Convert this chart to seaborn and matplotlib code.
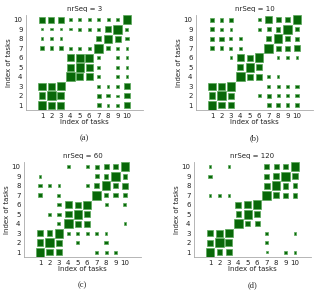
import numpy as np
import pandas as pd
import matplotlib
matplotlib.use("Agg")
import matplotlib.pyplot as plt
import seaborn as sns

sns.set_style("white")
plt.rcParams["font.family"] = ["DejaVu Sans"]

# similarity matrices, rows listed from task 10 (top) down to task 1
seq3 = [
    [0.75, 0.70, 0.75, 0.30, 0.30, 0.30, 0.30, 0.35, 0.35, 1.00],
    [0.28, 0.28, 0.28, 0.28, 0.32, 0.32, 0.32, 0.75, 1.00, 0.35],
    [0.30, 0.40, 0.30, 0.00, 0.00, 0.00, 0.55, 0.95, 0.70, 0.40],
    [0.45, 0.45, 0.45, 0.40, 0.35, 0.35, 1.00, 0.50, 0.30, 0.30],
    [0.00, 0.00, 0.00, 0.85, 0.90, 0.95, 0.35, 0.00, 0.35, 0.30],
    [0.00, 0.00, 0.00, 0.85, 1.00, 0.85, 0.30, 0.00, 0.35, 0.30],
    [0.00, 0.00, 0.00, 1.00, 0.80, 0.80, 0.35, 0.00, 0.30, 0.30],
    [0.85, 0.80, 0.95, 0.00, 0.00, 0.00, 0.40, 0.30, 0.30, 0.70],
    [0.80, 1.00, 0.80, 0.00, 0.00, 0.00, 0.45, 0.40, 0.25, 0.60],
    [1.00, 0.80, 0.80, 0.00, 0.00, 0.00, 0.45, 0.30, 0.30, 0.65],
]
seq10 = [
    [0.50, 0.45, 0.45, 0.00, 0.00, 0.30, 0.80, 0.60, 0.60, 1.00],
    [0.45, 0.30, 0.30, 0.00, 0.00, 0.40, 0.50, 0.55, 1.00, 0.50],
    [0.50, 0.50, 0.35, 0.30, 0.00, 0.00, 0.60, 1.00, 0.55, 0.50],
    [0.45, 0.45, 0.35, 0.30, 0.00, 0.00, 1.00, 0.60, 0.55, 0.65],
    [0.00, 0.00, 0.30, 0.80, 0.70, 1.00, 0.00, 0.30, 0.35, 0.30],
    [0.00, 0.00, 0.00, 0.70, 1.00, 0.65, 0.00, 0.00, 0.00, 0.00],
    [0.00, 0.00, 0.00, 1.00, 0.75, 0.75, 0.30, 0.30, 0.00, 0.00],
    [0.85, 0.80, 1.00, 0.00, 0.00, 0.00, 0.40, 0.35, 0.35, 0.40],
    [0.80, 1.00, 0.75, 0.00, 0.00, 0.30, 0.45, 0.35, 0.30, 0.40],
    [1.00, 0.75, 0.75, 0.00, 0.00, 0.00, 0.45, 0.45, 0.45, 0.45],
]
seq60 = [
    [0.00, 0.00, 0.00, 0.30, 0.00, 0.35, 0.45, 0.60, 0.60, 1.00],
    [0.30, 0.00, 0.00, 0.00, 0.00, 0.00, 0.45, 0.55, 1.00, 0.55],
    [0.40, 0.40, 0.30, 0.00, 0.00, 0.35, 0.55, 1.00, 0.60, 0.65],
    [0.50, 0.00, 0.35, 0.00, 0.00, 0.00, 1.00, 0.50, 0.50, 0.50],
    [0.00, 0.00, 0.40, 0.85, 0.70, 0.95, 0.00, 0.35, 0.00, 0.35],
    [0.00, 0.30, 0.40, 0.75, 1.00, 0.65, 0.00, 0.00, 0.00, 0.00],
    [0.00, 0.00, 0.35, 1.00, 0.70, 0.75, 0.00, 0.00, 0.00, 0.30],
    [0.70, 0.65, 1.00, 0.35, 0.40, 0.40, 0.35, 0.30, 0.00, 0.00],
    [0.80, 1.00, 0.65, 0.00, 0.30, 0.00, 0.00, 0.40, 0.00, 0.00],
    [1.00, 0.75, 0.70, 0.00, 0.00, 0.00, 0.40, 0.35, 0.30, 0.00],
]
seq120 = [
    [0.30, 0.00, 0.30, 0.00, 0.00, 0.00, 0.60, 0.60, 0.60, 1.00],
    [0.40, 0.00, 0.00, 0.00, 0.00, 0.00, 0.60, 0.65, 1.00, 0.65],
    [0.00, 0.00, 0.00, 0.00, 0.00, 0.00, 0.70, 1.00, 0.65, 0.55],
    [0.30, 0.30, 0.30, 0.00, 0.00, 0.00, 1.00, 0.70, 0.60, 0.55],
    [0.00, 0.00, 0.00, 0.70, 0.80, 1.00, 0.00, 0.00, 0.00, 0.00],
    [0.00, 0.00, 0.00, 0.65, 1.00, 0.75, 0.00, 0.00, 0.00, 0.00],
    [0.00, 0.00, 0.00, 1.00, 0.60, 0.55, 0.00, 0.00, 0.00, 0.00],
    [0.75, 0.85, 0.95, 0.00, 0.00, 0.00, 0.30, 0.00, 0.00, 0.30],
    [0.65, 1.00, 0.80, 0.00, 0.00, 0.00, 0.30, 0.00, 0.00, 0.00],
    [1.00, 0.65, 0.65, 0.00, 0.00, 0.00, 0.25, 0.00, 0.40, 0.30],
]

tasks = list(range(1, 11))
titles = ["nrSeq = 3", "nrSeq = 10", "nrSeq = 60", "nrSeq = 120"]
captions = ["(a)", "(b)", "(c)", "(d)"]
matrices = [seq3, seq10, seq60, seq120]

W, H = 315, 290
fig = plt.figure(figsize=(W / 100, H / 100), dpi=100)

# axes boxes in pixels: left, top
boxes = [(26, 15), (196, 15), (24, 162), (194, 162)]
aw, ah = 117, 95
txt = "#222222"

for mat, title, cap, (lx, ty) in zip(matrices, titles, captions, boxes):
    ax = fig.add_axes([lx / W, 1 - (ty + ah) / H, aw / W, ah / H])
    m = np.array(mat)
    rows = []
    for i, row in enumerate(m):
        for j, v in enumerate(row):
            if v > 0:
                rows.append({"x": tasks[j], "y": tasks[::-1][i], "area": v ** 2})
    df = pd.DataFrame(rows)
    sns.scatterplot(
        data=df, x="x", y="y", size="area", sizes=(0, 38), size_norm=(0, 1),
        marker="s", color="#086808", edgecolor="#5aa85a", linewidth=0.5,
        legend=False, ax=ax,
    )
    ax.set_xlim(-0.7, 11.7)
    ax.set_ylim(0.5, 10.5)
    ax.set_xticks(tasks)
    ax.set_yticks(tasks)
    ax.tick_params(labelsize=5, length=1.5, width=0.5, color="#999999",
                   labelcolor=txt, pad=1)
    for side in ["top", "right"]:
        ax.spines[side].set_visible(False)
    for side in ["left", "bottom"]:
        ax.spines[side].set_color("#aaaaaa")
        ax.spines[side].set_linewidth(0.6)
    ax.set_xlabel("Index of tasks", fontsize=5, labelpad=0, color=txt)
    ax.set_ylabel("Index of tasks", fontsize=5, labelpad=1, color=txt)
    ax.set_title(title, fontsize=5, pad=3, color=txt)
    fig.text((lx + aw / 2) / W, 1 - (ty + 123) / H, cap, ha="center", va="center",
             fontsize=6, family="Liberation Serif", color=txt)

fig.savefig("out.png", dpi=100)
